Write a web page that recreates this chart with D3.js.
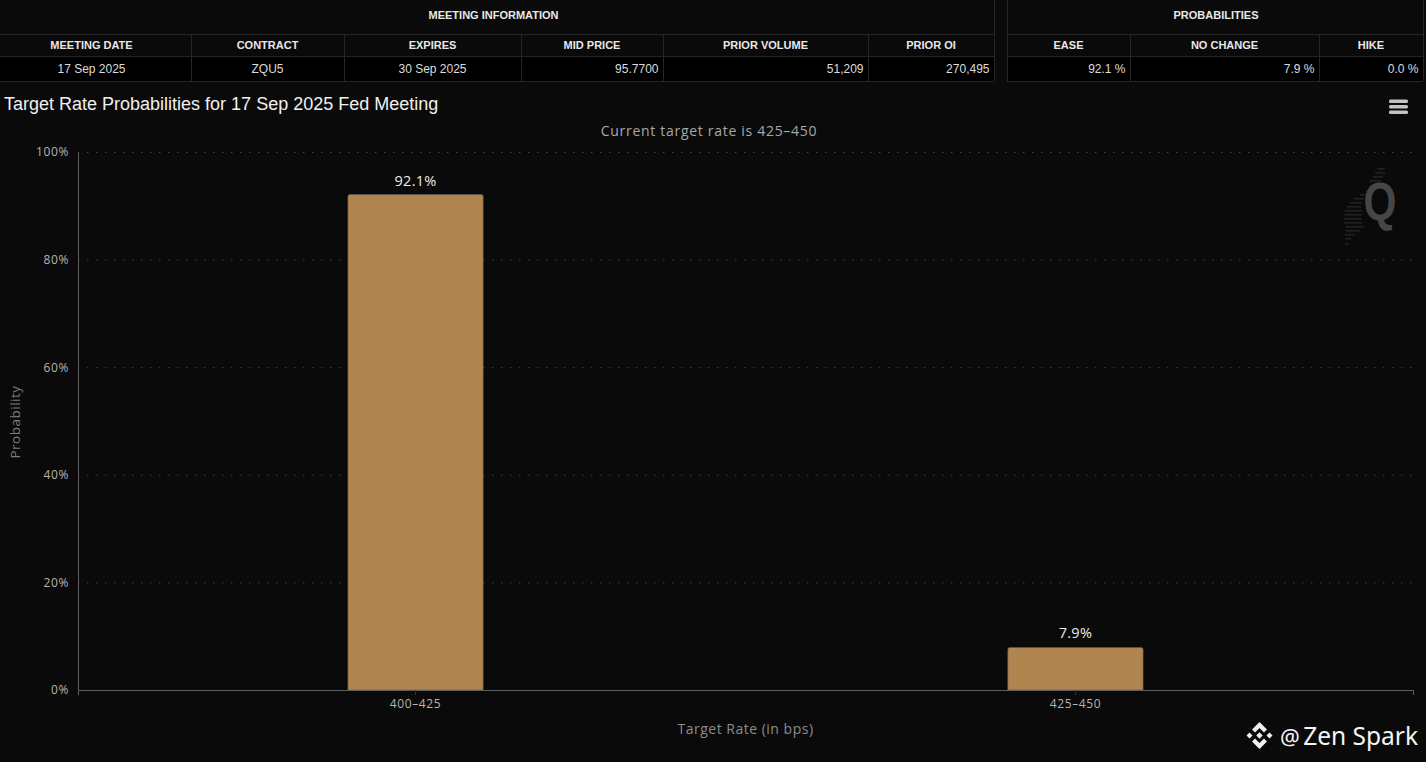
<!DOCTYPE html>
<html>
<head>
<meta charset="utf-8">
<style>
  html, body { margin: 0; padding: 0; background: #0a0a0a; overflow: hidden; }
  svg { display: block; }
  .cell { font-family: "Liberation Sans", sans-serif; font-size: 12px; fill: #dcdcdc; }
  .head { font-family: "Liberation Sans", sans-serif; font-size: 11px; font-weight: bold; fill: #e8e8e8; }
  .chart-text { font-family: "Open Sans", sans-serif; }
  .axis text { font-family: "Open Sans", sans-serif; font-size: 12px; fill: #b4b4b4; letter-spacing: .6px; }
</style>
</head>
<body>
<svg width="1426" height="762"></svg>
<script src="https://d3js.org/d3.v7.min.js"></script>
<script>
// chart data
var rates = ["400-425", "425-450"];
var probs = [92.1, 7.9];
var yTicks = [0, 20, 40, 60, 80, 100];

// table data
var infoHeads = ["MEETING DATE", "CONTRACT", "EXPIRES", "MID PRICE", "PRIOR VOLUME", "PRIOR OI"];
var infoVals = ["17 Sep 2025", "ZQU5", "30 Sep 2025", "95.7700", "51,209", "270,495"];
var infoAlign = ["middle", "middle", "middle", "end", "end", "end"];
var infoEdges = [-8, 191, 344, 521, 663, 868, 994];
var probHeads = ["EASE", "NO CHANGE", "HIKE"];
var probVals = ["92.1 %", "7.9 %", "0.0 %"];
var probAlign = ["end", "end", "end"];
var probEdges = [1007, 1130, 1319, 1423];

var svg = d3.select("svg");
var margin = {left: 78, right: 1413, top: 152, bottom: 690};

svg.append("rect").attr("width", 1426).attr("height", 762).attr("fill", "#0a0a0a");

function drawTable(title, heads, vals, align, edges) {
  var x0 = edges[0], x1 = edges[edges.length - 1];
  var g = svg.append("g");
  g.append("rect").attr("x", x0).attr("y", 57).attr("width", x1 - x0).attr("height", 24).attr("fill", "#000");
  g.selectAll(".hl").data([34, 56, 81]).enter().append("line")
      .attr("x1", x0).attr("x2", x1)
      .attr("y1", function(d) { return d + .5; }).attr("y2", function(d) { return d + .5; })
      .attr("stroke", "#262626");
  g.selectAll(".vl").data(edges.slice(1)).enter().append("line")
      .attr("x1", function(d) { return d + .5; }).attr("x2", function(d) { return d + .5; })
      .attr("y1", function(d, i) { return i == edges.length - 2 ? 0 : 34; }).attr("y2", 81)
      .attr("stroke", "#262626");
  if (x0 > 0) {
    g.append("line").attr("x1", x0 + .5).attr("x2", x0 + .5).attr("y1", 0).attr("y2", 81).attr("stroke", "#262626");
  }
  g.append("text").attr("class", "head").attr("x", title.x).attr("y", 19)
      .attr("text-anchor", "middle").text(title.text);
  heads.forEach(function(h, i) {
    g.append("text").attr("class", "head")
        .attr("x", (edges[i] + edges[i + 1]) / 2).attr("y", 49)
        .attr("text-anchor", "middle").text(h);
    var mid = align[i] == "middle";
    g.append("text").attr("class", "cell")
        .attr("x", mid ? (edges[i] + edges[i + 1]) / 2 : edges[i + 1] - 4.5)
        .attr("y", 73).attr("text-anchor", align[i]).text(vals[i]);
  });
}

drawTable({text: "MEETING INFORMATION", x: 493.5}, infoHeads, infoVals, infoAlign, infoEdges);
drawTable({text: "PROBABILITIES", x: 1216}, probHeads, probVals, probAlign, probEdges);

// titles
svg.append("text").attr("x", 4).attr("y", 110)
    .style("font-family", '"Liberation Sans", sans-serif').style("font-size", "18px")
    .attr("fill", "#f0f0f0").text("Target Rate Probabilities for 17 Sep 2025 Fed Meeting");
svg.append("text").attr("class", "chart-text").attr("x", 709).attr("y", 136)
    .attr("text-anchor", "middle").style("font-size", "14px").style("letter-spacing", ".7px")
    .attr("fill", "#a8a8a8").text("Current target rate is 425\u2013450");

// menu icon
svg.selectAll(".menu").data([101, 106.5, 112]).enter().append("rect")
    .attr("x", 1389).attr("y", function(d) { return d - 1.5; })
    .attr("width", 19).attr("height", 3.4).attr("rx", 1.5).attr("fill", "#c4c4c4");

// watermark
var mark = svg.append("g");
var streaks = [[1377,168,8],[1375,172,10],[1373,176,10],[1370,180,11],[1366,190,8],[1360,194,8],[1354,198,10],[1350,202,12],[1347,206,14],[1345,210,17],[1344,214,18],[1344,218,18],[1344,222,18],[1346,226,18],[1346,230,14],[1345,234,9],[1345,238,6],[1345,243,4]];
mark.selectAll("rect").data(streaks).enter().append("rect")
    .attr("x", function(d) { return d[0]; }).attr("y", function(d) { return d[1]; })
    .attr("width", function(d) { return d[2]; }).attr("height", 1.5).attr("fill", "#222");
mark.append("text").attr("transform", "translate(1380,220) scale(.8,1)").attr("text-anchor", "middle")
    .style("font-family", '"Liberation Sans", sans-serif').style("font-size", "53px").style("font-weight", "bold")
    .attr("fill", "#464646").text("Q");

// scales
var x = d3.scaleBand().domain(rates).range([margin.left, margin.right])
    .paddingInner(0.795).paddingOuter(0.409);
var y = d3.scaleLinear().domain([0, 100]).range([margin.bottom, margin.top]);

// grid
svg.append("g").selectAll("line").data(yTicks.slice(1)).enter().append("line")
    .attr("x1", margin.left).attr("x2", margin.right)
    .attr("y1", function(d) { return y(d) + .5; }).attr("y2", function(d) { return y(d) + .5; })
    .attr("stroke", "#444").attr("stroke-dasharray", "1.5 7.5");

// bars
svg.append("g").selectAll("path").data(probs).enter().append("path")
    .attr("fill", "#b08550")
    .attr("stroke", "#5a5a5a").attr("stroke-width", .6)
    .attr("d", function(d, i) {
      var x0 = x(rates[i]), w = x.bandwidth(), t = y(d), r = 2;
      return "M" + x0 + "," + y(0) + "V" + (t + r) + "Q" + x0 + "," + t + " " + (x0 + r) + "," + t +
             "H" + (x0 + w - r) + "Q" + (x0 + w) + "," + t + " " + (x0 + w) + "," + (t + r) + "V" + y(0) + "Z";
    });

// bar labels
svg.append("g").selectAll("text").data(probs).enter().append("text")
    .attr("class", "chart-text")
    .attr("x", function(d, i) { return x(rates[i]) + x.bandwidth() / 2; })
    .attr("y", function(d) { return y(d) - 9; })
    .attr("text-anchor", "middle").attr("fill", "#ececec")
    .style("font-size", "14.5px").style("letter-spacing", ".3px")
    .text(function(d) { return d.toFixed(1) + "%"; });

// axes
var yAxis = svg.append("g").attr("class", "axis")
    .attr("transform", "translate(" + margin.left + ",0)")
    .call(d3.axisLeft(y).tickValues(yTicks).tickSize(0).tickPadding(9).tickFormat(function(d) { return d + "%"; }));
yAxis.select(".domain").attr("stroke", "#5e5e5e");

var xAxis = svg.append("g").attr("class", "axis")
    .attr("transform", "translate(0," + margin.bottom + ")")
    .call(d3.axisBottom(x).tickSize(5).tickPadding(4).tickFormat(function(d) { return d.replace("-", "\u2013"); }));
xAxis.select(".domain").attr("stroke", "#5e5e5e");
xAxis.selectAll("line").attr("stroke", "#333");

svg.append("text").attr("class", "chart-text").attr("x", 745.5).attr("y", 734)
    .attr("text-anchor", "middle").style("font-size", "14px").style("letter-spacing", ".5px")
    .attr("fill", "#8c8c8c").text("Target Rate (in bps)");
svg.append("text").attr("class", "chart-text")
    .attr("transform", "translate(20,422) rotate(-90)")
    .attr("text-anchor", "middle").style("font-size", "13.5px").style("letter-spacing", ".5px")
    .attr("fill", "#7c7c7c").text("Probability");

// source tag bottom right
var tag = svg.append("g").attr("transform", "translate(1259.5,735.5)").attr("fill", "#f0f0f0");
tag.append("path").attr("d", "M0,-13.5L7.5,-6L4.5,-3L0,-7.5L-4.5,-3L-7.5,-6Z");
tag.append("path").attr("d", "M0,13.5L7.5,6L4.5,3L0,7.5L-4.5,3L-7.5,6Z");
tag.append("path").attr("d", "M0,-3.2L3.2,0L0,3.2L-3.2,0Z");
tag.append("path").attr("d", "M-10,-3L-7,0L-10,3L-13,0Z");
tag.append("path").attr("d", "M10,-3L13,0L10,3L7,0Z");
svg.append("text").attr("x", 1280).attr("y", 745)
    .style("font-family", '"Noto Sans", sans-serif').style("font-size", "22px")
    .attr("fill", "#f4f4f4").text("@");
svg.append("text").attr("x", 1418).attr("y", 745).attr("text-anchor", "end")
    .style("font-family", '"Noto Sans", sans-serif').style("font-size", "24.5px")
    .attr("fill", "#f4f4f4").text("Zen Spark");
</script>
</body>
</html>
